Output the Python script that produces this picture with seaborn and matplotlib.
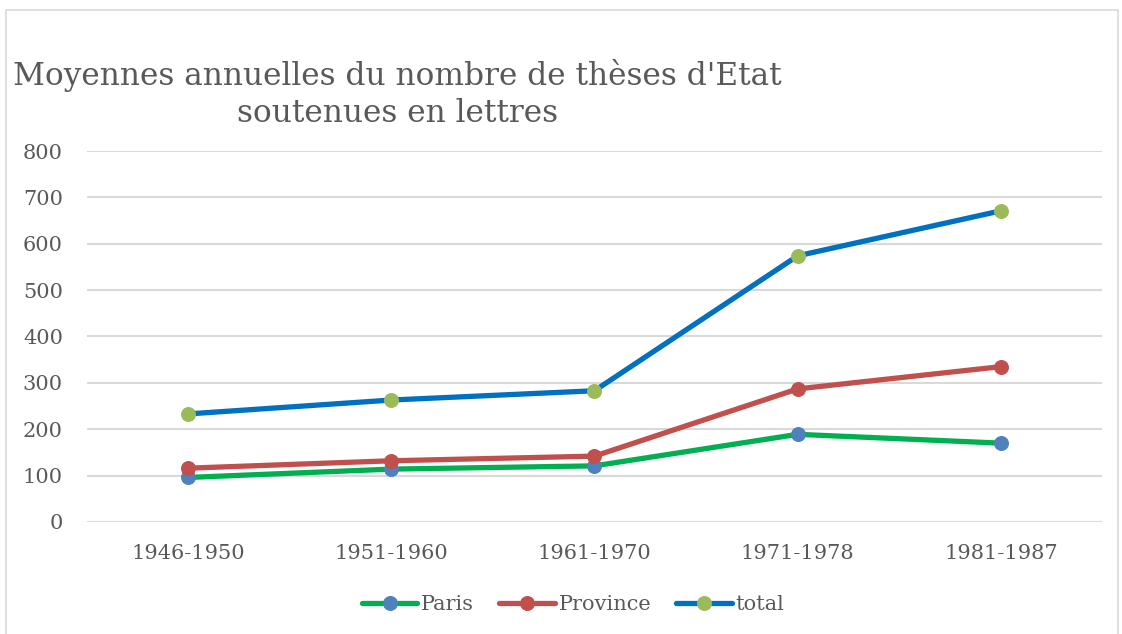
import matplotlib
matplotlib.use('Agg')
import matplotlib.pyplot as plt
import seaborn as sns
from matplotlib.patches import Rectangle

# données
periodes = ['1946-1950', '1951-1960', '1961-1970', '1971-1978', '1981-1987']
paris = [96, 114, 121, 189, 170]
province = [116, 132, 142, 287, 335]
total = [233, 263, 283, 574, 671]

sns.set_theme(style='white')
plt.rcParams['font.family'] = ['DejaVu Serif']
txt_color = '#595959'

fig = plt.figure(figsize=(11.22, 6.34), dpi=100)
ax = fig.add_axes([0.0771, 0.1767, 0.9055, 0.5851])

series = [
    ('Paris', paris, '#00B050', '#4F81BD'),
    ('Province', province, '#C0504D', '#C0504D'),
    ('total', total, '#0070C0', '#9BBB59'),
]
for name, vals, lc, mc in series:
    sns.lineplot(x=periodes, y=vals, ax=ax, color=lc, linewidth=3.8,
                 marker='o', markersize=10, markerfacecolor=mc,
                 markeredgecolor=mc, label=name, sort=False)

ax.set_xlim(-0.5, 4.5)
ax.set_ylim(0, 800)
ax.set_yticks(range(0, 801, 100))
ax.grid(True, axis='y', color='#D9D9D9', linewidth=1.5)
ax.set_axisbelow(True)
for s in ax.spines.values():
    s.set_visible(False)
ax.tick_params(axis='both', length=0, labelsize=15, labelcolor=txt_color)
ax.tick_params(axis='y', pad=17)
ax.tick_params(axis='x', pad=16)
ax.set_xlabel('')
ax.set_ylabel('')

handles, labels = ax.get_legend_handles_labels()
ax.get_legend().remove()
fig.legend(handles, labels, loc='center', bbox_to_anchor=(0.511, 0.046),
           ncol=3, frameon=False, fontsize=15, handlelength=2.65,
           columnspacing=1.2, handletextpad=0.2,
           labelcolor=txt_color)

fig.text(0.354, 0.851, "Moyennes annuelles du nombre de thèses d'Etat\nsoutenues en lettres",
         ha='center', va='center', multialignment='center',
         fontsize=22.5, color=txt_color, linespacing=1.25)

fig.patches.append(Rectangle((0.005, -0.01), 0.991, 0.995, transform=fig.transFigure,
                             fill=False, edgecolor='#D9D9D9', linewidth=1.2))

fig.savefig('out.png', dpi=100)
